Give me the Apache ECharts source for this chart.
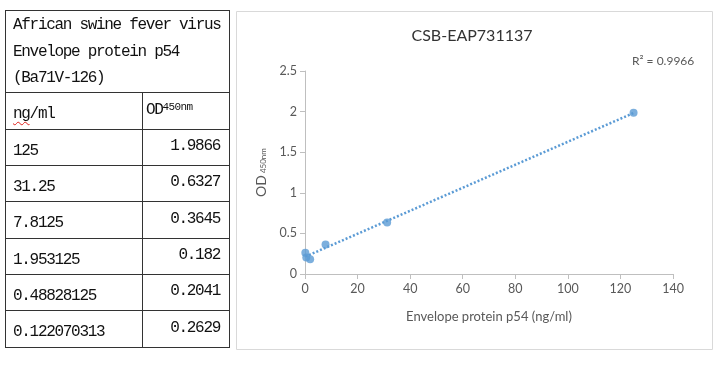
<!DOCTYPE html>
<html><head><meta charset="utf-8">
<script src="https://cdn.jsdelivr.net/npm/echarts/dist/echarts.min.js"></script>
<style>
html,body{margin:0;padding:0;background:#fff;width:725px;height:365px;overflow:hidden;}
#chart{position:absolute;left:0;top:0;width:725px;height:365px;}
#tbl{position:absolute;left:5px;top:10px;border-collapse:collapse;table-layout:fixed;
  font-family:"Liberation Mono",monospace;font-size:16px;letter-spacing:-1.3px;color:#111;}
#tbl td{border:1px solid #333;padding:0;overflow:hidden;white-space:nowrap;box-sizing:border-box;}
#tbl td.hd{vertical-align:top;padding:1px 0 0 7px;line-height:26.5px;}
#tbl td.l{padding:7px 0 0 7px;vertical-align:middle;}
#tbl td.r{text-align:right;padding:0 9px 2px 0;vertical-align:middle;}
#tbl td.odh{text-align:left;padding:0 0 1px 3px;vertical-align:middle;}
.sq{text-decoration:underline wavy #e0201a;text-decoration-thickness:1px;text-underline-offset:3px;}
</style></head>
<body>
<div id="chart"></div>
<table id="tbl"></table>
<script>
// ---- data ----
const headerLines = ["African swine fever virus", "Envelope protein p54", "(Ba71V-126)"];
const concentrations = [125, 31.25, 7.8125, 1.953125, 0.48828125, 0.122070313];
const odValues = [1.9866, 0.6327, 0.3645, 0.182, 0.2041, 0.2629];
const chartTitle = "CSB-EAP731137";
const rSquared = "0.9966";
const xAxisTitle = "Envelope protein p54 (ng/ml)";
const xTickRange = [0, 140, 20];
const yTickRange = [0, 2.5, 0.5];

// ---- table ----
const tbl = document.getElementById('tbl');
let html = '<colgroup><col style="width:137px"><col style="width:87px"></colgroup>';
html += '<tr><td class="hd" colspan="2" style="height:79px">' + headerLines.join('<br>') + '</td></tr>';
html += '<tr><td class="l" style="height:37px"><span class="sq">ng</span>/ml</td><td class="odh" style="height:37px">OD<span style="font-size:11px;vertical-align:4px;letter-spacing:-0.6px">450nm</span></td></tr>';
const rowH = [36, 36, 37, 36, 36, 37];
concentrations.forEach((c, i) => {
  html += '<tr><td class="l" style="height:' + rowH[i] + 'px">' + String(c) + '</td><td class="r" style="height:' + rowH[i] + 'px">' + String(odValues[i]) + '</td></tr>';
});
tbl.innerHTML = html;

// ---- linear trendline (least squares over the data) ----
const n = concentrations.length;
const mx = concentrations.reduce((a, b) => a + b, 0) / n;
const my = odValues.reduce((a, b) => a + b, 0) / n;
let sxy = 0, sxx = 0;
for (let i = 0; i < n; i++) { sxy += (concentrations[i] - mx) * (odValues[i] - my); sxx += (concentrations[i] - mx) ** 2; }
const slope = sxy / sxx, intercept = my - slope * mx;
const xMin = Math.min(...concentrations), xMax = Math.max(...concentrations);
const trend = [[xMin, intercept + slope * xMin], [xMax, intercept + slope * xMax]];

const blue = '#5b9bd5';
const font = 'Lato';
const chart = echarts.init(document.getElementById('chart'), null, {renderer: 'canvas'});
chart.setOption({
  animation: false,
  backgroundColor: 'transparent',
  grid: {left: 305, right: 52, top: 71, bottom: 91, containLabel: false},
  xAxis: {
    type: 'value', min: xTickRange[0], max: xTickRange[1], interval: xTickRange[2],
    axisLine: {show: true, lineStyle: {color: '#bfbfbf', width: 1}},
    axisTick: {show: true, length: 5, lineStyle: {color: '#bfbfbf'}},
    axisLabel: {color: '#595959', fontSize: 12.5, fontFamily: font, margin: 8},
    splitLine: {show: false},
    name: xAxisTitle, nameLocation: 'middle', nameGap: 36,
    nameTextStyle: {color: '#595959', fontSize: 13, fontFamily: font}
  },
  yAxis: {
    type: 'value', min: yTickRange[0], max: yTickRange[1], interval: yTickRange[2],
    axisLine: {show: true, lineStyle: {color: '#bfbfbf', width: 1}},
    axisTick: {show: true, length: 5, lineStyle: {color: '#bfbfbf'}},
    axisLabel: {color: '#595959', fontSize: 12.5, fontFamily: font, margin: 8},
    splitLine: {show: false},
    name: '{a|OD}{b|450nm}', nameLocation: 'middle', nameGap: 37,
    nameTextStyle: {
      color: '#595959', fontFamily: font,
      rich: {
        a: {fontSize: 14, fontFamily: font, color: '#595959'},
        b: {fontSize: 8, fontFamily: font, color: '#595959', padding: [5, 0, 0, 2]}
      }
    }
  },
  series: [
    {
      type: 'line', data: trend, showSymbol: false, symbol: 'none', silent: true,
      lineStyle: {color: blue, width: 2.5, type: [2, 2], cap: 'butt'}, z: 1
    },
    {
      type: 'scatter', data: concentrations.map((c, i) => [c, odValues[i]]),
      symbol: 'circle', symbolSize: 8, itemStyle: {color: blue}, z: 2
    }
  ],
  graphic: [
    {type: 'rect', shape: {x: 236.5, y: 11.5, width: 476, height: 338}, style: {fill: 'none', stroke: '#d9d9d9', lineWidth: 1}, silent: true},
    {type: 'text', x: 472, y: 36, style: {text: chartTitle, font: '16px Lato', fill: '#333333', align: 'center', verticalAlign: 'middle'}},
    {type: 'text', x: 632, y: 61, style: {text: 'R\u00b2 = ' + rSquared, font: '12px Lato', fill: '#595959', align: 'left', verticalAlign: 'middle'}}
  ]
});
</script>
</body></html>
